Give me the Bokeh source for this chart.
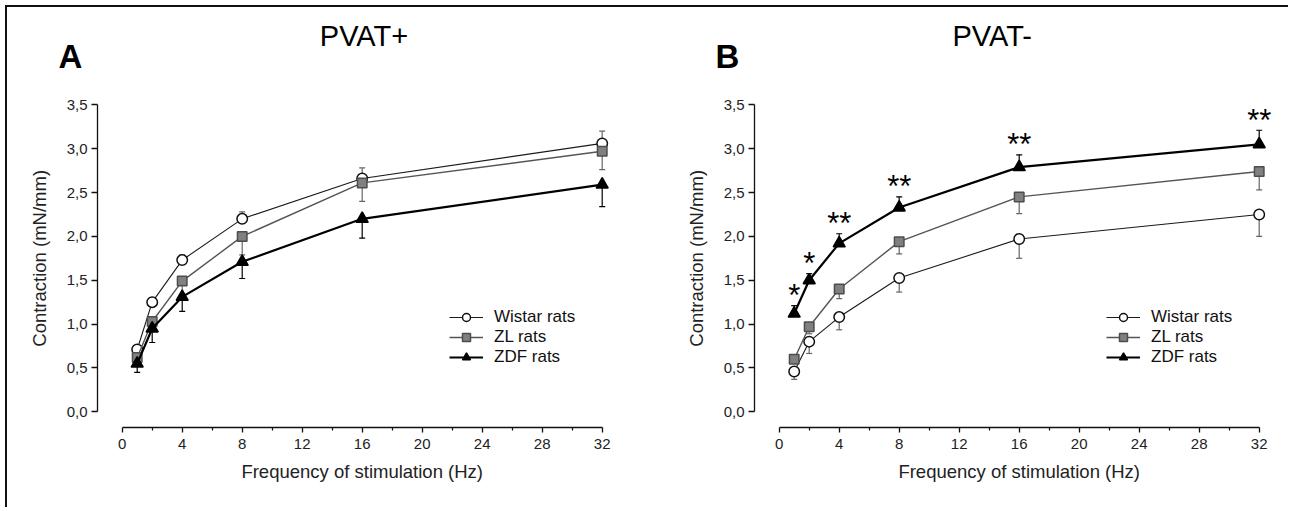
import math
from bokeh.plotting import figure
from bokeh.models import (ColumnDataSource, Whisker, TeeHead, Legend, LegendItem,
                          FixedTicker, Range1d, Label)
from bokeh.layouts import row
from bokeh.embed import file_html
from bokeh.resources import INLINE
from bokeh.core.properties import value

# ---------------- data ----------------
freq = [1, 2, 4, 8, 16, 32]
x_ticks = [0, 4, 8, 12, 16, 20, 24, 28, 32]
x_minor_ticks = [2, 6, 10, 14, 18, 22, 26, 30]
y_ticks = [0.0, 0.5, 1.0, 1.5, 2.0, 2.5, 3.0, 3.5]
y_tick_labels = ["0,0", "0,5", "1,0", "1,5", "2,0", "2,5", "3,0", "3,5"]
series_names = ["Wistar rats", "ZL rats", "ZDF rats"]
x_title = "Frequency of stimulation (Hz)"
y_title = "Contraction (mN/mm)"

# Panel A : PVAT+
a_wistar = [0.71, 1.25, 1.73, 2.20, 2.66, 3.06]
a_wistar_sem = [0.04, 0.04, 0.06, 0.08, 0.12, 0.14]
a_zl = [0.62, 1.03, 1.49, 2.00, 2.61, 2.97]
a_zl_sem = [0.05, 0.10, 0.15, 0.21, 0.21, 0.21]
a_zdf = [0.55, 0.95, 1.31, 1.71, 2.20, 2.59]
a_zdf_sem = [0.10, 0.16, 0.165, 0.19, 0.22, 0.25]

# Panel B : PVAT-
b_wistar = [0.46, 0.80, 1.08, 1.525, 1.97, 2.25]
b_wistar_sem = [0.09, 0.135, 0.145, 0.16, 0.22, 0.25]
b_zl = [0.60, 0.97, 1.40, 1.94, 2.45, 2.74]
b_zl_sem = [0.05, 0.08, 0.11, 0.14, 0.19, 0.21]
b_zdf = [1.12, 1.50, 1.92, 2.33, 2.79, 3.05]
b_zdf_sem = [0.09, 0.075, 0.11, 0.12, 0.14, 0.16]
b_signif = ["*", "*", "**", "**", "**", "**"]

# ---------------- styles ----------------
FONT = "Liberation Sans"
STYLE = {
    "Wistar rats": dict(marker="circle", size=10.5, fill="white", mline="#111111",
                        line="#1a1a1a", lw=1.1, err="#666666"),
    "ZL rats": dict(marker="square", size=9.5, fill="#808080", mline="#4d4d4d",
                    line="#555555", lw=1.4, err="#666666"),
    "ZDF rats": dict(marker="triangle", size=12, fill="#000000", mline="#000000",
                     line="#000000", lw=2.2, err="#000000"),
}
X_AXIS_AT_Y = -0.179   # x axis drawn a little below y = 0
Y_AXIS_AT_X = -1.647   # y axis drawn a little left of x = 0


def make_panel(letter, title, title_x, series, err_dirs, width, x_end,
               signif=None):
    p = figure(width=width, height=500, title=None,
               x_range=Range1d(-7.6467, x_end), y_range=Range1d(-1.0911, 4.6095),
               output_backend="svg", toolbar_location=None, min_border=0)
    p.xgrid.visible = False
    p.ygrid.visible = False
    p.outline_line_color = None
    p.background_fill_color = "white"
    p.border_fill_color = "white"

    # axes (kept in the side panels, drawn at fixed positions)
    xa = p.xaxis[0]
    xa.fixed_location = X_AXIS_AT_Y
    xa.ticker = FixedTicker(ticks=x_ticks, minor_ticks=x_minor_ticks)
    xa.bounds = (x_ticks[0], x_ticks[-1])
    ya = p.yaxis[0]
    ya.fixed_location = Y_AXIS_AT_X
    ya.ticker = FixedTicker(ticks=y_ticks, minor_ticks=[])
    ya.bounds = (y_ticks[0], y_ticks[-1])
    ya.major_label_overrides = dict(zip(y_ticks, y_tick_labels))
    for ax in (xa, ya):
        ax.axis_line_color = "#111111"
        ax.axis_line_width = 1.3
        ax.major_tick_line_color = "#111111"
        ax.major_tick_line_width = 1.3
        ax.minor_tick_line_color = "#111111"
        ax.minor_tick_line_width = 1.2
        ax.major_tick_in = 0
        ax.minor_tick_in = 0
        ax.major_label_text_font = FONT
        ax.major_label_text_font_size = "15px"
        ax.major_label_text_color = "#222222"
    xa.major_tick_out = 5
    xa.minor_tick_out = 3
    xa.major_label_standoff = 7
    ya.major_tick_out = 6
    ya.minor_tick_out = 0
    ya.major_label_standoff = 4

    # axis titles, panel letter and panel title
    p.add_layout(Label(x=(x_ticks[0] + x_ticks[-1]) / 2, y=-0.686, text=x_title,
                       text_font=FONT, text_font_size="18.5px",
                       text_align="center", text_baseline="alphabetic",
                       text_color="#222222"))
    p.add_layout(Label(x=-5.513, y=(y_ticks[0] + y_ticks[-1]) / 2, text=y_title,
                       angle=math.pi / 2, text_font=FONT, text_font_size="18.5px",
                       text_align="center", text_baseline="middle",
                       text_color="#222222"))
    p.add_layout(Label(x=-4.25, y=4.056, text=letter, text_font=FONT,
                       text_font_size="33px", text_font_style="bold",
                       text_align="left", text_baseline="alphabetic",
                       text_color="#000000"))
    p.add_layout(Label(x=title_x, y=4.29, text=title, text_font=FONT,
                       text_font_size="29px", text_align="center",
                       text_baseline="alphabetic", text_color="#000000"))

    items = []
    for name in series_names:
        vals, sems = series[name]
        st = STYLE[name]
        if err_dirs[name] == "up":
            upper = [v + s for v, s in zip(vals, sems)]
            lower = list(vals)
        else:
            upper = list(vals)
            lower = [v - s for v, s in zip(vals, sems)]
        src = ColumnDataSource(dict(x=freq, y=vals, upper=upper, lower=lower))
        head = TeeHead(size=6, line_color=st["err"], line_width=1.2)
        w = Whisker(base="x", upper="upper", lower="lower", source=src,
                    dimension="height", line_color=st["err"], line_width=1.2,
                    upper_head=head if err_dirs[name] == "up" else None,
                    lower_head=head if err_dirs[name] != "up" else None)
        p.add_layout(w)
        lr = p.line("x", "y", source=src, line_color=st["line"], line_width=st["lw"])
        sr = p.scatter("x", "y", source=src, marker=st["marker"], size=st["size"],
                       fill_color=st["fill"], line_color=st["mline"], line_width=1.5)
        items.append(LegendItem(label=name, renderers=[lr, sr]))

    if signif is not None:
        vals, sems = series["ZDF rats"]
        ssrc = ColumnDataSource(dict(x=freq, y=[v + s for v, s in zip(vals, sems)],
                                     t=signif))
        p.text("x", "y", text="t", source=ssrc, text_font=value(FONT),
               text_font_size="31px", text_align="center",
               text_baseline="alphabetic", y_offset=-10, text_color="#000000")

    legend = Legend(items=items, location=(442, 140), orientation="vertical",
                    border_line_color=None, background_fill_alpha=0,
                    padding=0, margin=0, spacing=0, label_height=20,
                    glyph_height=20, glyph_width=34, label_standoff=11,
                    label_text_font=FONT, label_text_font_size="17px",
                    label_text_color="#111111")
    p.add_layout(legend)
    return p


pA = make_panel("A", "PVAT+", 16.12,
                {"Wistar rats": (a_wistar, a_wistar_sem),
                 "ZL rats": (a_zl, a_zl_sem),
                 "ZDF rats": (a_zdf, a_zdf_sem)},
                {"Wistar rats": "up", "ZL rats": "down", "ZDF rats": "down"},
                width=657, x_end=36.153)
pB = make_panel("B", "PVAT-", 14.2,
                {"Wistar rats": (b_wistar, b_wistar_sem),
                 "ZL rats": (b_zl, b_zl_sem),
                 "ZDF rats": (b_zdf, b_zdf_sem)},
                {"Wistar rats": "down", "ZL rats": "down", "ZDF rats": "up"},
                width=624, x_end=33.953, signif=b_signif)

layout = row(pA, pB, styles={"border-top": "2px solid #111111",
                             "border-left": "2px solid #111111",
                             "margin-left": "5px", "margin-top": "5px"})

with open("out.html", "w") as f:
    f.write(file_html(layout, INLINE))
